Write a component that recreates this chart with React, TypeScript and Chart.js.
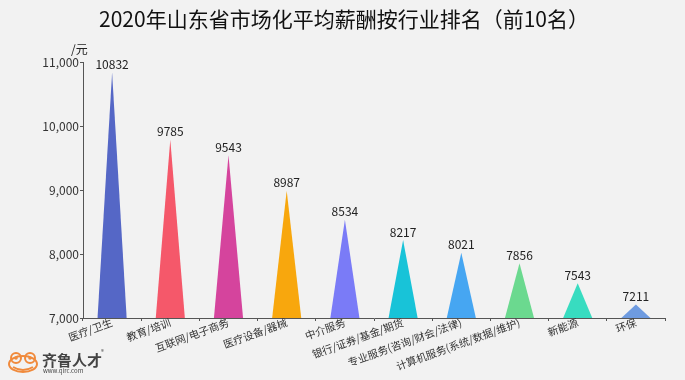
import React, { useEffect, useRef } from "react";
import { Chart, registerables } from "chart.js";

Chart.register(...registerables);

const categories = [
  "医疗/卫生",
  "教育/培训",
  "互联网/电子商务",
  "医疗设备/器械",
  "中介服务",
  "银行/证券/基金/期货",
  "专业服务(咨询/财会/法律)",
  "计算机服务(系统/数据/维护)",
  "新能源",
  "环保",
];
const salaries = [10832, 9785, 9543, 8987, 8534, 8217, 8021, 7856, 7543, 7211];
const colors = [
  "#5567c6",
  "#f5586a",
  "#d5449d",
  "#f8a70d",
  "#7a7bf7",
  "#18c3d8",
  "#46a6f2",
  "#6bd98f",
  "#38dcc0",
  "#6e9be0",
];
const yTicks = [7000, 8000, 9000, 10000, 11000];
const titleText = "2020年山东省市场化平均薪酬按行业排名（前10名）";
const unitText = "/元";
const logoName = "齐鲁人才";
const logoUrl = "www.qlrc.com";

const FONT = "'Noto Sans CJK SC', 'Noto Sans', sans-serif";

const trianglePlugin = {
  id: "triangles",
  beforeDraw(chart: any) {
    const { ctx, width, height } = chart;
    ctx.save();
    ctx.fillStyle = "#f2f2f2";
    ctx.fillRect(0, 0, width, height);
    ctx.restore();
  },
  afterDatasetsDraw(chart: any) {
    const { ctx, chartArea } = chart;
    const meta = chart.getDatasetMeta(0);
    ctx.save();
    meta.data.forEach((bar: any, i: number) => {
      const { x, y, width } = bar.getProps(["x", "y", "width"], true);
      const base = chartArea.bottom;
      ctx.beginPath();
      ctx.moveTo(x - width / 2, base);
      ctx.lineTo(x, y);
      ctx.lineTo(x + width / 2, base);
      ctx.closePath();
      ctx.fillStyle = colors[i];
      ctx.fill();
      ctx.fillStyle = "#222";
      ctx.font = `12px ${FONT}`;
      ctx.textAlign = "center";
      ctx.textBaseline = "bottom";
      ctx.fillText(String(salaries[i]), x, y - 2);
    });
    ctx.restore();
  },
  afterDraw(chart: any) {
    const { ctx, chartArea } = chart;
    ctx.save();
    // title
    ctx.fillStyle = "#111";
    ctx.font = `21px ${FONT}`;
    ctx.textAlign = "center";
    ctx.textBaseline = "middle";
    ctx.fillText(titleText, 344, 19);
    // unit
    ctx.font = `12px ${FONT}`;
    ctx.textAlign = "left";
    ctx.fillStyle = "#222";
    ctx.fillText(unitText, chartArea.left - 12, chartArea.top - 13);
    // logo frog
    ctx.strokeStyle = "#f08a3c";
    ctx.lineWidth = 2;
    ctx.beginPath();
    ctx.ellipse(23, 364, 14, 8, 0, 0, Math.PI * 2);
    ctx.stroke();
    ctx.beginPath();
    ctx.arc(16, 358, 5, 0, Math.PI * 2);
    ctx.stroke();
    ctx.beginPath();
    ctx.arc(30, 358, 5, 0, Math.PI * 2);
    ctx.stroke();
    ctx.fillStyle = "#f08a3c";
    ctx.beginPath();
    ctx.arc(16, 358, 1.8, 0, Math.PI * 2);
    ctx.fill();
    ctx.beginPath();
    ctx.arc(30, 358, 1.8, 0, Math.PI * 2);
    ctx.fill();
    ctx.beginPath();
    ctx.moveTo(13, 367);
    ctx.quadraticCurveTo(23, 373, 33, 367);
    ctx.stroke();
    // logo text
    ctx.fillStyle = "#444";
    ctx.font = `bold 15px ${FONT}`;
    ctx.textBaseline = "middle";
    ctx.fillText(logoName, 42, 360);
    ctx.font = `6px ${FONT}`;
    ctx.fillText(logoUrl, 43, 371);
    ctx.fillText("®", 101, 352);
    ctx.restore();
  },
};

export default function App() {
  const ref = useRef<HTMLCanvasElement>(null);
  useEffect(() => {
    if (!ref.current) return;
    const chart = new Chart(ref.current, {
      type: "bar",
      data: {
        labels: categories,
        datasets: [
          {
            data: salaries,
            backgroundColor: "rgba(0,0,0,0)",
            borderWidth: 0,
            barPercentage: 0.5,
            categoryPercentage: 1,
          },
        ],
      },
      options: {
        responsive: false,
        animation: false,
        layout: { padding: { left: 0, right: 20, top: 62, bottom: 0 } },
        plugins: {
          legend: { display: false },
          title: { display: false },
          tooltip: { enabled: false },
        },
        scales: {
          x: {
            grid: {
              display: true,
              drawOnChartArea: false,
              tickLength: 3,
              color: "#555",
              offset: true,
            },
            border: { display: true, color: "#555" },
            ticks: {
              minRotation: 20,
              maxRotation: 20,
              autoSkip: false,
              color: "#333",
              font: { size: 10.5, family: FONT },
              padding: -5,
            },
            afterFit(scale: any) {
              scale.height = 62;
            },
          },
          y: {
            min: 7000,
            max: 11000,
            afterBuildTicks(scale: any) {
              scale.ticks = yTicks.map((v) => ({ value: v }));
            },
            grid: {
              display: true,
              drawOnChartArea: false,
              tickLength: 3,
              color: "#555",
            },
            border: { display: true, color: "#555" },
            ticks: {
              color: "#333",
              font: { size: 12, family: FONT },
              padding: 1,
              callback: (v: any) => Number(v).toLocaleString("en-US"),
            },
            afterFit(scale: any) {
              scale.width = 83;
            },
          },
        },
      },
      plugins: [trianglePlugin],
    });
    return () => chart.destroy();
  }, []);
  return (
    <div
      style={{
        position: "fixed",
        left: 0,
        top: 0,
        width: 685,
        height: 380,
        background: "#f2f2f2",
      }}
    >
      <canvas ref={ref} width={685} height={380} style={{ display: "block" }} />
    </div>
  );
}
